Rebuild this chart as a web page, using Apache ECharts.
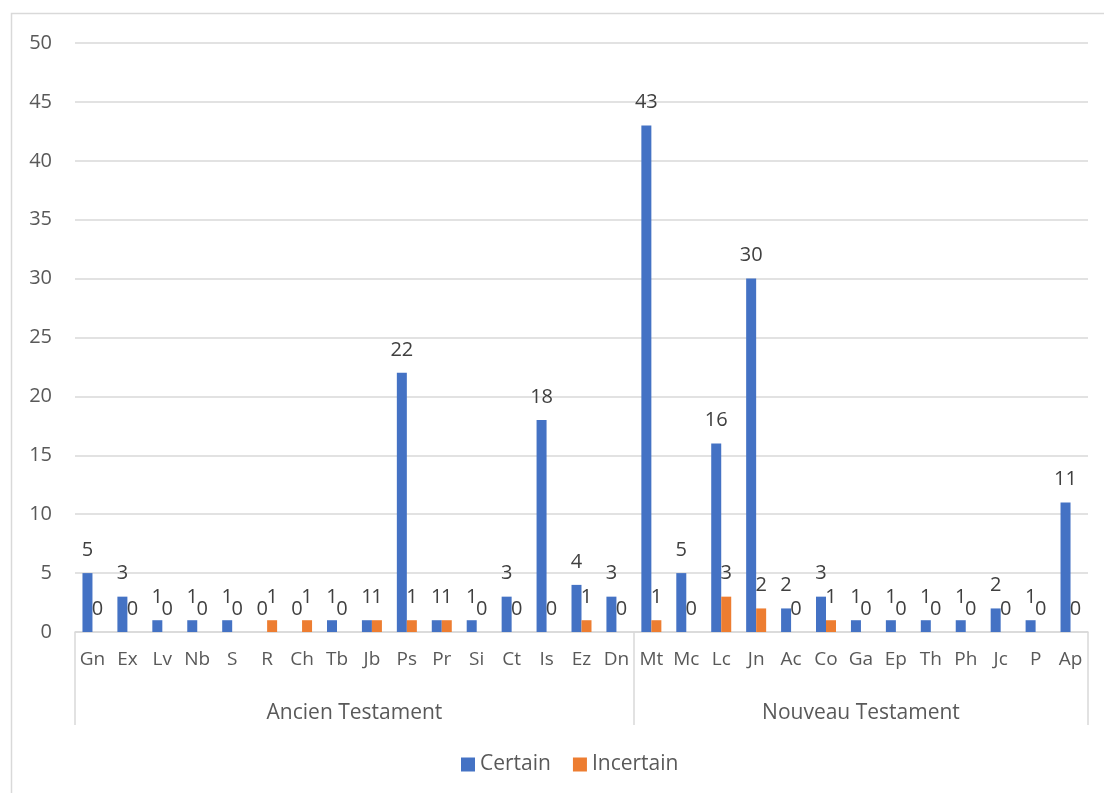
<!DOCTYPE html>
<html>
<head>
<meta charset="utf-8">
<script src="https://cdn.jsdelivr.net/npm/echarts@6/dist/echarts.min.js"></script>
<style>
html,body{margin:0;padding:0;background:#fff;}
#chart{width:1104px;height:793px;}
</style>
</head>
<body>
<div id="chart"></div>
<script>
var categories = ['Gn','Ex','Lv','Nb','S','R','Ch','Tb','Jb','Ps','Pr','Si','Ct','Is','Ez','Dn',
                  'Mt','Mc','Lc','Jn','Ac','Co','Ga','Ep','Th','Ph','Jc','P','Ap'];
var certain   = [5,3,1,1,1,0,0,1,1,22,1,1,3,18,4,3, 43,5,16,30,2,3,1,1,1,1,2,1,11];
var incertain = [0,0,0,0,0,1,1,0,1,1,1,0,0,0,1,0, 1,0,3,2,0,1,0,0,0,0,0,0,0];
var groupNames = ['Ancien Testament','Nouveau Testament'];
var groupSizes = [16,13];
var yTicks = [0,5,10,15,20,25,30,35,40,45,50];

var FONT = '"Open Sans", "Noto Sans", sans-serif';
var boundaries = [0], centers = [], acc = 0;
groupSizes.forEach(function(s){ centers.push(acc + s/2); acc += s; boundaries.push(acc); });

var chart = echarts.init(document.getElementById('chart'));
chart.setOption({
  backgroundColor:'#fff',
  animation:false,
  graphic:[{type:'rect', shape:{x:11.5,y:13.5,width:1200,height:900}, style:{fill:'none',stroke:'#d9d9d9',lineWidth:1.5}, silent:true, z:-10}],
  grid:{left:75,right:16,top:43,bottom:161},
  legend:{bottom:13,left:456,itemWidth:14,itemHeight:14,itemGap:22,
    icon:'rect',
    textStyle:{fontFamily:FONT,fontSize:21,color:'#595959'},
    data:['Certain','Incertain']},
  xAxis:[{
    type:'category', data:categories, position:'bottom',
    axisLine:{lineStyle:{color:'#d9d9d9',width:1.5}},
    axisTick:{show:false},
    axisLabel:{interval:0,fontFamily:FONT,fontSize:19,color:'#595959',margin:18}
  },{
    type:'value', min:0, max:categories.length, position:'bottom',
    axisLine:{show:false},
    splitLine:{show:false},
    axisTick:{show:true,customValues:boundaries,length:93,lineStyle:{color:'#d9d9d9',width:1.5}},
    axisLabel:{customValues:centers,fontFamily:FONT,fontSize:21,color:'#595959',margin:71,
      formatter:function(v){ var i = centers.indexOf(v); return i>=0 ? groupNames[i] : ''; }}
  }],
  yAxis:{
    type:'value', min:yTicks[0], max:yTicks[yTicks.length-1], interval:5,
    axisLine:{show:false}, axisTick:{show:false},
    splitLine:{lineStyle:{color:'#d9d9d9',width:1.5}},
    axisLabel:{fontFamily:FONT,fontSize:20,color:'#595959',margin:23}
  },
  series:[{
    name:'Certain', type:'bar', data:certain, xAxisIndex:0, barWidth:10, barGap:'0%',
    itemStyle:{color:'#4472C4'},
    label:{show:true,position:'top',distance:13,fontFamily:FONT,fontSize:20,color:'#404040'}
  },{
    name:'Incertain', type:'bar', data:incertain, xAxisIndex:0, barWidth:10, barGap:'0%',
    itemStyle:{color:'#ED7D31'},
    label:{show:true,position:'top',distance:13,fontFamily:FONT,fontSize:20,color:'#404040'}
  }]
});
</script>
</body>
</html>
